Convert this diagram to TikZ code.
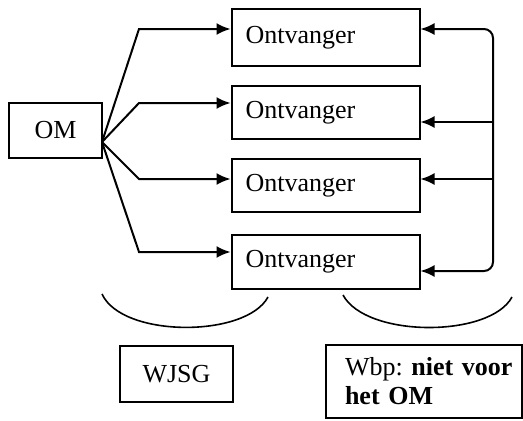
\documentclass[tikz,border=0pt]{standalone}
\usepackage{fontspec}
\setmainfont{Liberation Serif}
\usepackage{tikz}
\usetikzlibrary{arrows,arrows.meta}
\usetikzlibrary{calc}
\usetikzlibrary{positioning}
\tikzstyle{block} = [draw, line width=2pt, rectangle, inner sep=0pt,
    font=\fontsize{26}{29}\selectfont]
\tikzstyle{receiver} = [block, text width=160pt, inner xsep=14pt,
    minimum height=55pt, align=left]
\tikzstyle{wire} = [line width=2pt]
\tikzstyle{brace} = [line width=1.6pt]

\begin{document}
\begin{tikzpicture}[x=1pt, y=-1pt, >={Latex[length=14pt,width=12pt]}]
    \useasboundingbox (0,0) rectangle (523,421);
    % We start by placing the blocks
    \node [block, minimum width=93pt, minimum height=55pt] (om) at (55.5,130.5) {OM};
    \node [receiver, minimum height=57pt] (recv1) at (325.5,37.5) {Ontvanger};
    \node [receiver, minimum height=53pt] (recv2) at (325.5,112.5) {Ontvanger};
    \node [receiver, minimum height=53pt] (recv3) at (325.5,185.5) {Ontvanger};
    \node [receiver, minimum height=54pt] (recv4) at (325.5,262) {Ontvanger};
    \node [block, minimum width=113pt, minimum height=56pt] (wjsg) at (176.5,374) {WJSG};
    \node [block, text width=158pt, inner xsep=19pt, minimum height=73pt, align=left]
        (wbp) at (424,381.5) {\mbox{Wbp:\ \textbf{niet voor}}\\\textbf{het OM}};

    % points for the connectors
    \coordinate (split) at (102,142);
    \coordinate (bend1) at (139,29);
    \coordinate (bend2) at (139,103);
    \coordinate (bend3) at (139,179);
    \coordinate (bend4) at (139,252);
    \coordinate (back1) at (493,29);
    \coordinate (back2) at (493,122);
    \coordinate (back3) at (493,179);
    \coordinate (back4) at (493,271);

    \draw [wire,->] (split) -- (bend1) -- (bend1 -| recv1.west);
    \draw [wire,->] (split) -- (bend2) -- (bend2 -| recv2.west);
    \draw [wire,->] (split) -- (bend3) -- (bend3 -| recv3.west);
    \draw [wire,->] (split) -- (bend4) -- (bend4 -| recv4.west);

    \draw [wire,<->,rounded corners=9pt] (back1 -| recv1.east) -- (back1) -- (back4) -- (back4 -| recv4.east);
    \draw [wire,->] (back2) -- (back2 -| recv2.east);
    \draw [wire,->] (back3) -- (back3 -| recv3.east);

    % the two braces under the receivers
    \coordinate (left1) at (102,294);
    \coordinate (left2) at (268,297);
    \coordinate (right1) at (343,295);
    \coordinate (right2) at (512,297);
    \draw [brace] (left1) .. controls (122,338) and (246,338) .. (left2);
    \draw [brace] (right1) .. controls (366,338) and (490,338) .. (right2);
\end{tikzpicture}
\end{document}
